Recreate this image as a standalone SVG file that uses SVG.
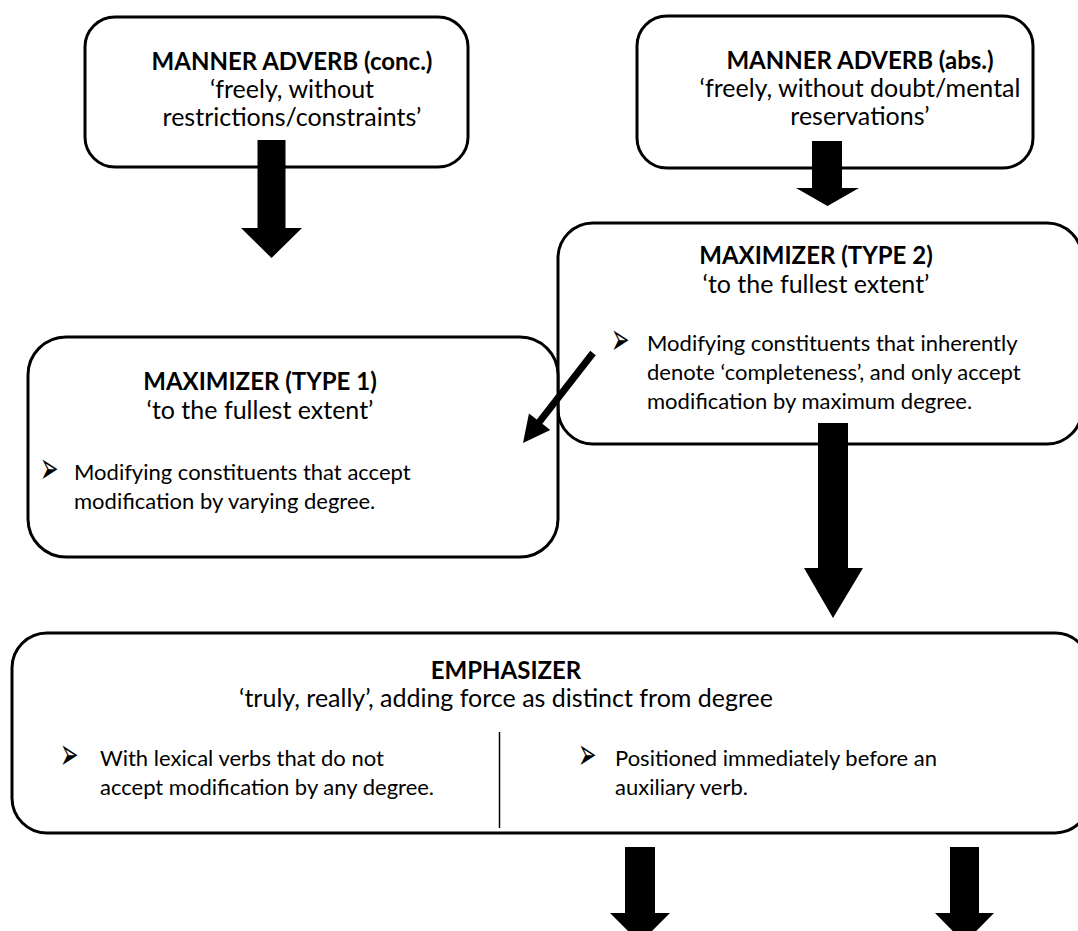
<svg xmlns="http://www.w3.org/2000/svg" width="1078" height="931" viewBox="0 0 1078 931">
  <style>
    .box { fill: #ffffff; stroke: #000000; stroke-width: 3; }
    .title { font-family: Lato, "Liberation Sans", sans-serif; font-weight: bold; font-size: 24px; fill: #000; text-anchor: middle; }
    .sub { font-family: Lato, "Liberation Sans", sans-serif; font-size: 25px; fill: #000; text-anchor: middle; }
    .body { font-family: Lato, "Liberation Sans", sans-serif; font-size: 22px; fill: #000; }
    .bullet { font-family: "DejaVu Sans", sans-serif; font-size: 22px; fill: #000; }
    .arrow { fill: #000; stroke: none; }
  </style>

  <!-- nodes -->
  <g id="manner-conc">
    <rect class="box" x="85" y="17" width="383" height="150" rx="30" ry="30"/>
    <text class="title" x="292" y="70">MANNER ADVERB (conc.)</text>
    <text class="sub" x="292" y="98">‘freely, without</text>
    <text class="sub" x="292" y="126">restrictions/constraints’</text>
  </g>

  <g id="manner-abs">
    <rect class="box" x="637" y="16" width="396" height="152" rx="30" ry="30"/>
    <text class="title" x="860" y="69">MANNER ADVERB (abs.)</text>
    <text class="sub" x="860" y="97">‘freely, without doubt/mental</text>
    <text class="sub" x="860" y="125">reservations’</text>
  </g>

  <g id="maximizer-2">
    <rect class="box" x="558" y="223" width="524" height="221" rx="35" ry="35"/>
    <text class="title" x="816" y="264">MAXIMIZER (TYPE 2)</text>
    <text class="sub" x="816" y="293">‘to the fullest extent’</text>
    <text class="bullet" transform="translate(611,354) scale(1,2)">➢</text>
    <text class="body" x="647" y="351">Modifying constituents that inherently</text>
    <text class="body" x="647" y="380">denote ‘completeness’, and only accept</text>
    <text class="body" x="647" y="409">modification by maximum degree.</text>
  </g>

  <g id="maximizer-1">
    <rect class="box" x="28" y="337" width="530" height="220" rx="38" ry="38"/>
    <text class="title" x="260" y="390">MAXIMIZER (TYPE 1)</text>
    <text class="sub" x="260" y="419">‘to the fullest extent’</text>
    <text class="bullet" transform="translate(40,483) scale(1,2)">➢</text>
    <text class="body" x="74" y="480">Modifying constituents that accept</text>
    <text class="body" x="74" y="509">modification by varying degree.</text>
  </g>

  <g id="emphasizer">
    <rect class="box" x="12" y="633" width="1078" height="200" rx="35" ry="35"/>
    <text class="title" x="506" y="679">EMPHASIZER</text>
    <text class="sub" x="506" y="707">‘truly, really’, adding force as distinct from degree</text>
    <line x1="499.5" y1="732" x2="499.5" y2="828" stroke="#000" stroke-width="1.5"/>
    <text class="bullet" transform="translate(60,769) scale(1,2)">➢</text>
    <text class="body" x="100" y="766">With lexical verbs that do not</text>
    <text class="body" x="100" y="795">accept modification by any degree.</text>
    <text class="bullet" transform="translate(578,769) scale(1,2)">➢</text>
    <text class="body" x="615" y="766">Positioned immediately before an</text>
    <text class="body" x="615" y="795">auxiliary verb.</text>
  </g>

  <!-- connectors: block arrows -->
  <g id="connectors">
    <polygon class="arrow" points="257.5,140 285.5,140 285.5,228 302,228 271.5,258 241,228 257.5,228"/>
    <polygon class="arrow" points="812,141 842,141 842,188 859,188 827.5,206 796,188 812,188"/>
    <polygon class="arrow" points="818,423 848,423 848,568 863,568 833,618 804,568 818,568"/>
    <g transform="translate(593,353) rotate(127.87)">
      <polygon class="arrow" points="0,-3.5 87,-3.5 87,-13.5 114,0 87,13.5 87,3.5 0,3.5"/>
    </g>
    <polygon class="arrow" points="625,847 655,847 655,913 670,913 640,943 610,913 625,913"/>
    <polygon class="arrow" points="950,847 979,847 979,913 994,913 964.5,943 935,913 950,913"/>
  </g>
</svg>
